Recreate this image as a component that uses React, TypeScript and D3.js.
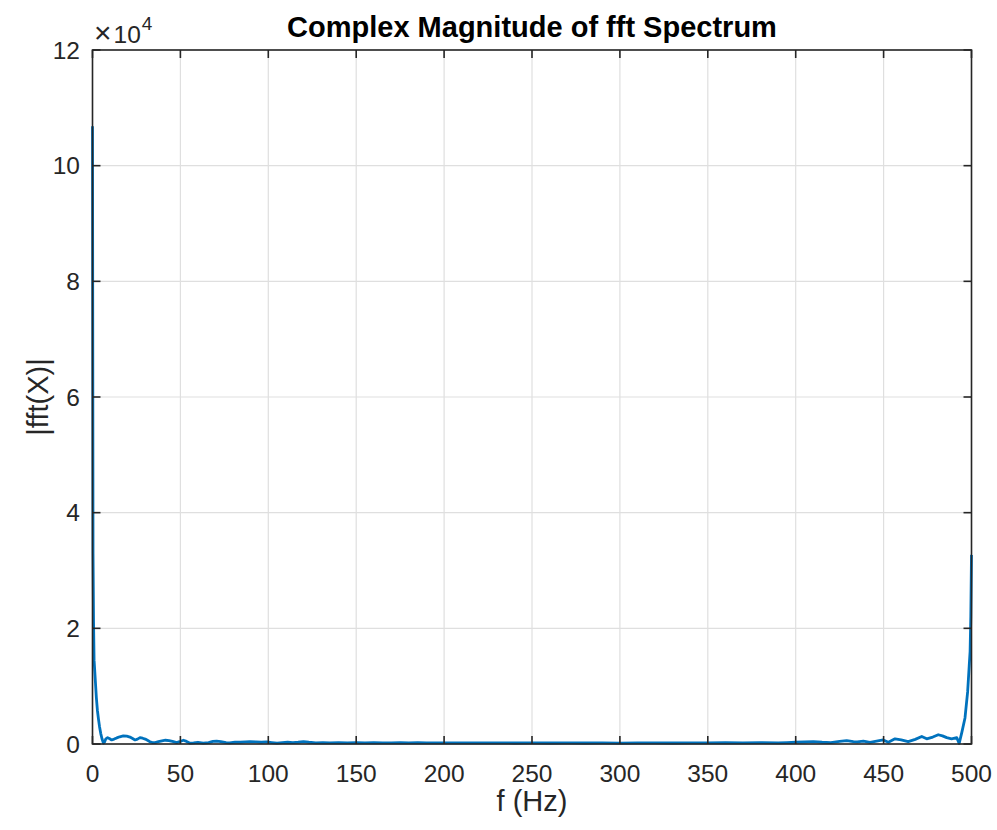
import React from "react";
import * as d3 from "d3";

const freqHz: number[] = [
  0, 0.3, 0.6, 0.9, 1.3, 1.7, 2.2, 2.8, 3.4, 4.0, 4.7, 5.4, 6.2, 6.8, 7.6, 8.6, 9.8, 10.9, 12.3, 13.8,
  15.5, 17.5, 19.5, 21.3, 22.8, 24.2, 25.6, 27.0, 28.5, 30.0, 31.5, 32.7, 34.0, 35.6, 37.5, 39.5, 41.5,
  43.5, 45.5, 47.9, 49.5, 51.7, 53.5, 55.5, 57.5, 60, 63, 66, 68.5, 70.6, 73, 76, 78, 81, 84, 87, 89.6,
  93, 96, 99, 102, 105, 108, 111, 114, 117, 120, 123, 127, 131, 135, 140, 145, 150, 155, 160, 165, 170,
  175, 180, 185, 190, 195, 200, 210, 220, 230, 240, 250, 260, 270, 280, 290, 300, 310, 320, 330, 340,
  350, 360, 370, 380, 390, 395, 400, 405, 410, 415, 420, 425, 429, 432.8, 435, 438.5, 442.3, 446, 449.8,
  452.7, 456.5, 460, 464, 468, 471.7, 474.5, 478, 481.1, 483.5, 485.9, 488.7, 491.6, 493, 494.5, 496.3,
  497.8, 498.7, 499.2, 499.6, 500,
];

const magnitude: number[] = [
  106800, 33000, 21000, 14500, 12500, 10500, 8000, 5800, 4300, 3000, 1800, 900, 150, 300, 900, 1100, 900,
  700, 850, 1050, 1250, 1400, 1350, 1200, 950, 700, 850, 1100, 1000, 850, 600, 400, 250, 250, 400, 550,
  650, 600, 450, 250, 400, 650, 450, 150, 200, 300, 150, 250, 450, 500, 400, 250, 200, 300, 300, 350, 400,
  350, 300, 350, 250, 150, 250, 300, 250, 300, 400, 300, 200, 250, 200, 250, 200, 250, 200, 250, 180, 200,
  250, 200, 230, 180, 200, 180, 200, 180, 200, 170, 180, 170, 190, 170, 190, 160, 180, 200, 170, 200,
  180, 220, 200, 250, 200, 250, 300, 350, 400, 300, 250, 450, 600, 400, 350, 500, 300, 500, 700,
  300, 900, 700, 400, 800, 1300, 900, 1200, 1600, 1400, 1100, 900, 1100, 100, 2000, 4500,
  9000, 13500, 16000, 22000, 32700,
];

const xTicks: number[] = [0, 50, 100, 150, 200, 250, 300, 350, 400, 450, 500];
const yTicks: number[] = [0, 20000, 40000, 60000, 80000, 100000, 120000];
const yTickLabels: string[] = ["0", "2", "4", "6", "8", "10", "12"];

const titleText = "Complex Magnitude of fft Spectrum";
const xLabelText = "f (Hz)";
const yLabelText = "|fft(X)|";

const W = 997;
const H = 830;
const L = 92.5;
const R = 971.5;
const T = 50;
const B = 744;
const FONT = "'Liberation Sans', Arial, Helvetica, sans-serif";
const AX = "#262626";
const GRID = "#dfdfdf";
const LINE = "#0072BD";

export default function App() {
  const x = d3.scaleLinear().domain([0, 500]).range([L, R]);
  const y = d3.scaleLinear().domain([0, 120000]).range([B, T]);
  const pts: [number, number][] = freqHz.map((f, i) => [f, magnitude[i]]);
  const line = d3
    .line<[number, number]>()
    .x((d) => x(d[0]))
    .y((d) => y(d[1]));
  const tickLen = 8;

  return (
    <svg
      width={W}
      height={H}
      style={{ position: "absolute", left: 0, top: 0, background: "#fff" }}
      fontFamily={FONT}
    >
      <rect x={0} y={0} width={W} height={H} fill="#fff" />
      {xTicks.map((t) => (
        <line key={"gx" + t} x1={x(t)} x2={x(t)} y1={T} y2={B} stroke={GRID} strokeWidth={1.2} />
      ))}
      {yTicks.map((t) => (
        <line key={"gy" + t} x1={L} x2={R} y1={y(t)} y2={y(t)} stroke={GRID} strokeWidth={1.2} />
      ))}
      <path d={line(pts) || ""} fill="none" stroke={LINE} strokeWidth={2.8} strokeLinejoin="round" />
      <rect x={L} y={T} width={R - L} height={B - T} fill="none" stroke={AX} strokeWidth={1.6} />
      {xTicks.map((t) => (
        <g key={"tx" + t}>
          <line x1={x(t)} x2={x(t)} y1={B} y2={B - tickLen} stroke={AX} strokeWidth={1.6} />
          <line x1={x(t)} x2={x(t)} y1={T} y2={T + tickLen} stroke={AX} strokeWidth={1.6} />
          <text x={x(t)} y={782} textAnchor="middle" fontSize={24.5} fill={AX}>
            {t}
          </text>
        </g>
      ))}
      {yTicks.map((t, i) => (
        <g key={"ty" + t}>
          <line x1={L} x2={L + tickLen} y1={y(t)} y2={y(t)} stroke={AX} strokeWidth={1.6} />
          <line x1={R} x2={R - tickLen} y1={y(t)} y2={y(t)} stroke={AX} strokeWidth={1.6} />
          <text x={80} y={y(t) + 8.5} textAnchor="end" fontSize={24.5} fill={AX}>
            {yTickLabels[i]}
          </text>
        </g>
      ))}
      <text x={94} y={43} fill={AX}>
        <tspan fontSize={30}>×</tspan>
        <tspan fontSize={24.5} dx={2}>10</tspan>
        <tspan fontSize={19} dy={-13} dx={1}>
          4
        </tspan>
      </text>
      <text x={(L + R) / 2} y={37} textAnchor="middle" fontSize={29} fontWeight="bold" fill="#000">
        {titleText}
      </text>
      <text x={(L + R) / 2} y={811} textAnchor="middle" fontSize={29} fill={AX}>
        {xLabelText}
      </text>
      <text
        transform={`translate(48, ${(T + B) / 2}) rotate(-90)`}
        textAnchor="middle"
        fontSize={29}
        fill={AX}
      >
        {yLabelText}
      </text>
    </svg>
  );
}
